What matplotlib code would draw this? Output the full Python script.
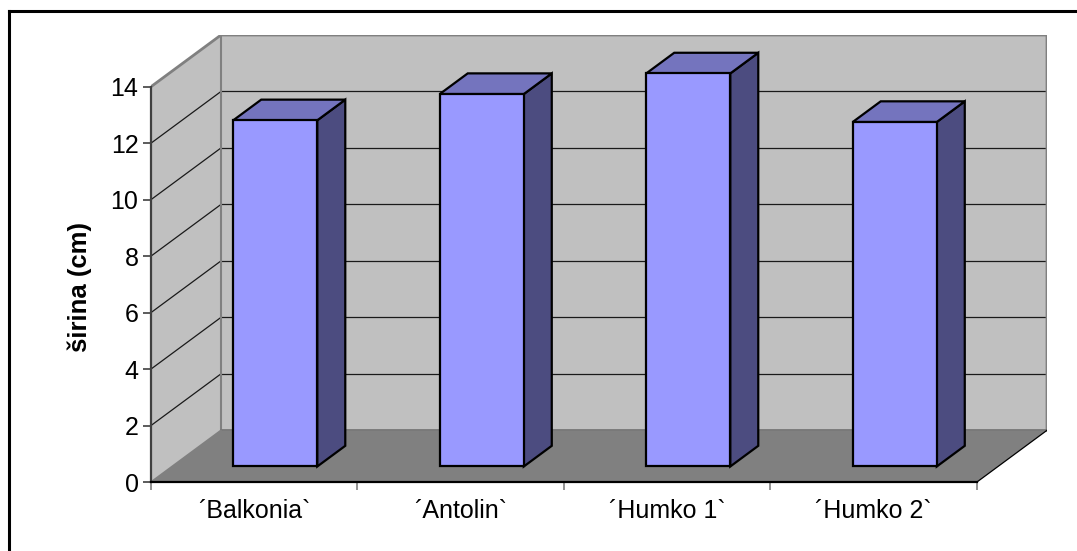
import matplotlib
matplotlib.use("Agg")
import matplotlib.pyplot as plt
from matplotlib.lines import Line2D

plt.rcParams['font.family'] = ['Liberation Sans', 'DejaVu Sans']

# Data
categories = ['´Balkonia`', '´Antolin`', '´Humko 1`', '´Humko 2`']
values = [12.26, 13.19, 13.92, 12.20]
y_ticks = [0, 2, 4, 6, 8, 10, 12, 14]
y_label = 'širina (cm)'

# Oblique 3-D projection parameters (in data units)
DX = 0.339      # horizontal shift of the back plane (categories)
DY = 1.831      # vertical shift of the back plane (value units)
YMAX = 14
BAR_W = 0.407
D0, D1 = 0.30, 0.70   # bar depth range as fraction of the box depth

W, H = 1077, 551
fig = plt.figure(figsize=(W / 100, H / 100), dpi=100)
fig.patch.set_facecolor('white')

# outer chart frame (left and top edges)
fig.add_artist(Line2D([9 / W, 9 / W], [0, 1 - 11 / H], transform=fig.transFigure,
                      color='black', lw=2.2, solid_capstyle='projecting'))
fig.add_artist(Line2D([9 / W, 1], [1 - 11 / H, 1 - 11 / H], transform=fig.transFigure,
                      color='black', lw=2.2, solid_capstyle='projecting'))

ax = fig.add_axes([151 / W, (H - 482) / H, (1047 - 151) / W, (482 - 35) / H])
ax.set_facecolor('none')
ncat = len(categories)
ax.set_xlim(0, ncat + DX)
ax.set_ylim(0, YMAX + DY)

wall = '#C0C0C0'
floor = '#808080'
edge_gray = '#808080'

# back wall
ax.fill([DX, ncat + DX, ncat + DX, DX], [DY, DY, YMAX + DY, YMAX + DY],
        color=wall, lw=0, zorder=0.5)
# side wall
ax.fill([0, DX, DX, 0], [0, DY, YMAX + DY, YMAX], color=wall, lw=0, zorder=0.5)
# floor
ax.fill([0, ncat, ncat + DX, DX], [0, 0, DY, DY], color=floor, lw=0, zorder=0.6)

# gridlines on walls
for v in y_ticks[1:-1]:
    ax.plot([DX, ncat + DX], [v + DY, v + DY], color='#1a1a1a', lw=0.9, zorder=0.7)
    ax.plot([0, DX], [v, v + DY], color='#1a1a1a', lw=0.9, zorder=0.7)

# wall edges
ax.plot([0, DX, ncat + DX, ncat + DX], [YMAX, YMAX + DY, YMAX + DY, DY],
        color=edge_gray, lw=2, zorder=0.8, solid_joinstyle='miter')
ax.plot([DX, DX], [DY, YMAX + DY], color=edge_gray, lw=1.5, zorder=0.8)
ax.plot([DX, ncat + DX], [DY, DY], color='#707070', lw=1.2, zorder=0.8)
ax.plot([0, DX], [0, DY], color=edge_gray, lw=1.2, zorder=0.8)
ax.plot([ncat, ncat + DX], [0, DY], color='black', lw=0.9, zorder=0.8)

# bars
front_c = '#9999FF'
top_c = '#7474BE'
side_c = '#4C4C80'
for i, v in enumerate(values):
    xc = i + 0.5
    x0 = xc - BAR_W / 2 + D0 * DX
    x1 = xc + BAR_W / 2 + D0 * DX
    yb = D0 * DY
    yt = v + D0 * DY
    ddx = (D1 - D0) * DX
    ddy = (D1 - D0) * DY
    kw = dict(ec='black', lw=1.6, joinstyle='miter', zorder=2)
    ax.fill([x1, x1 + ddx, x1 + ddx, x1], [yb, yb + ddy, yt + ddy, yt], fc=side_c, **kw)
    ax.fill([x0, x1, x1 + ddx, x0 + ddx], [yt, yt, yt + ddy, yt + ddy], fc=top_c, **kw)
    ax.fill([x0, x1, x1, x0], [yb, yb, yt, yt], fc=front_c, **kw)

# axes
for s in ['top', 'right']:
    ax.spines[s].set_visible(False)
ax.spines['left'].set_bounds(0, YMAX)
ax.spines['left'].set_color('#404040')
ax.spines['left'].set_linewidth(1.6)
ax.spines['bottom'].set_bounds(0, ncat)
ax.spines['bottom'].set_color('black')
ax.spines['bottom'].set_linewidth(1.6)

ax.set_yticks(y_ticks)
ax.set_yticklabels([str(t) for t in y_ticks])
ax.tick_params(axis='y', length=6, width=1.2, color='#404040', labelsize=18, pad=3)

ax.set_xticks(range(ncat + 1))
ax.set_xticklabels([''] * (ncat + 1))
ax.tick_params(axis='x', which='major', length=6, width=1.2, color='#808080')
ax.set_xticks([i + 0.5 for i in range(ncat)], minor=True)
ax.set_xticklabels(categories, minor=True)
ax.tick_params(axis='x', which='minor', length=0, labelsize=18, pad=12)

fig.text(80 / W, 1 - 287 / H, y_label, rotation=90, ha='center', va='center',
         fontsize=18.5, fontweight='bold')

fig.savefig('out.png', dpi=100)
